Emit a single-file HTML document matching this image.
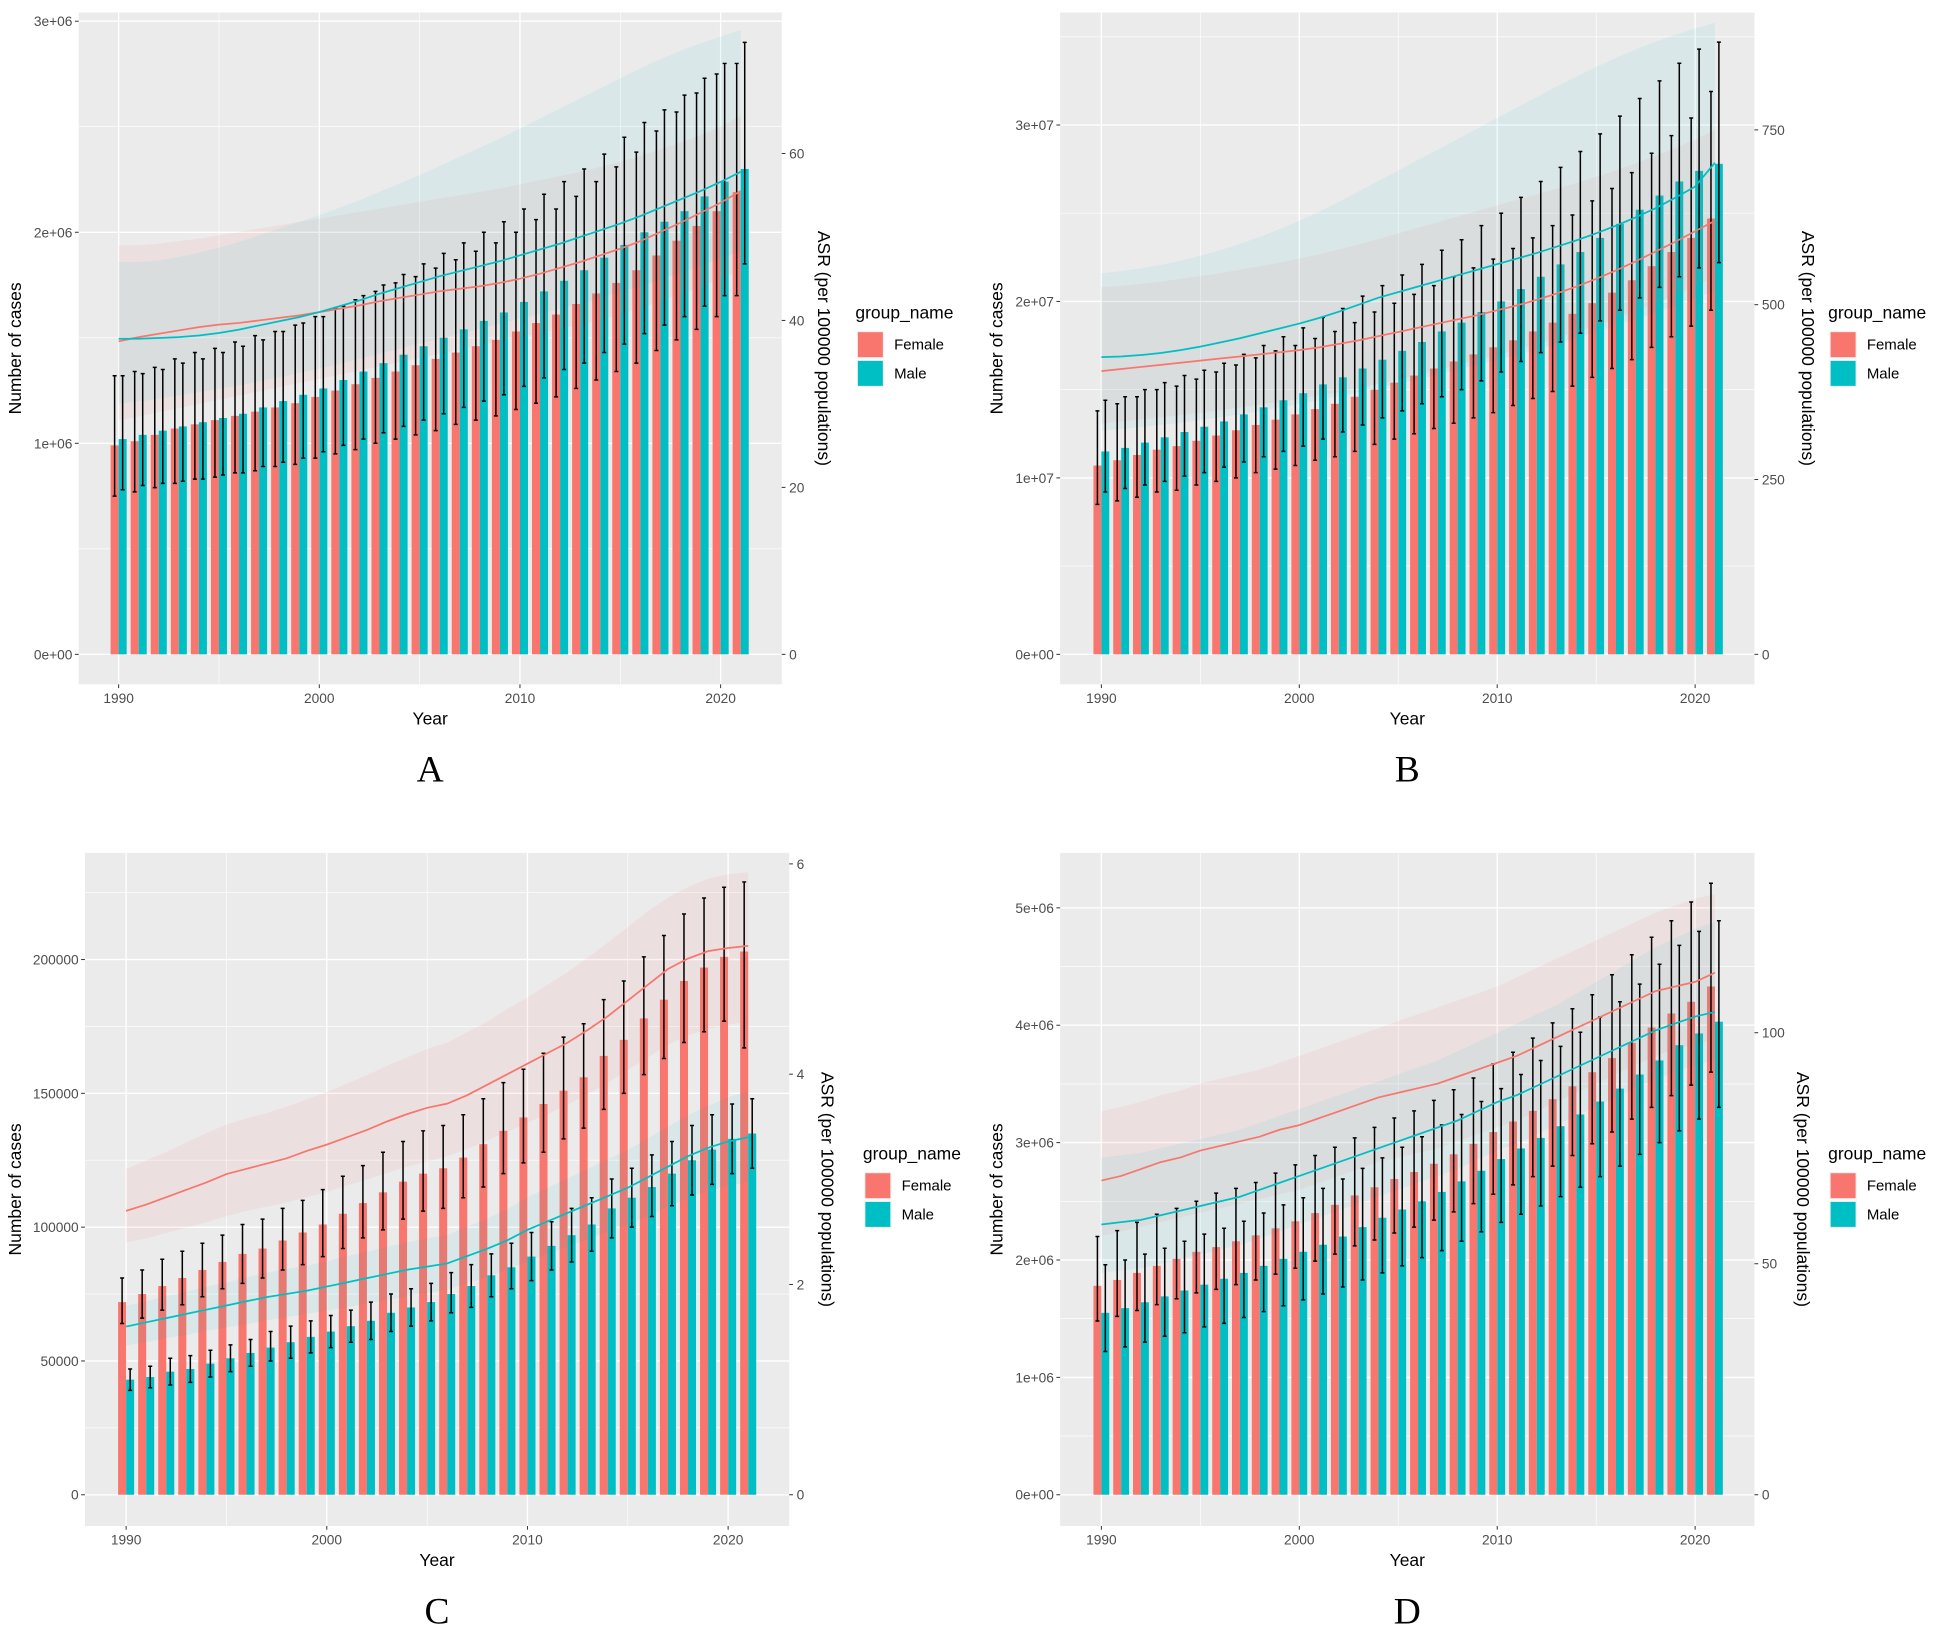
<!DOCTYPE html>
<html><head><meta charset="utf-8"><style>
html,body{margin:0;padding:0;background:#fff;}
svg{display:block;font-family:"Liberation Sans",Arial,sans-serif;}
</style></head><body>
<svg id="fig" width="1948" height="1630" viewBox="0 0 1560 1305.3" preserveAspectRatio="none" xmlns="http://www.w3.org/2000/svg"></svg>
<script>
const years=[];for(let y=1990;y<=2021;y++)years.push(y);
// Panel A
const aFemVal=[0.99,1.01,1.04,1.07,1.09,1.11,1.13,1.15,1.17,1.19,1.22,1.25,1.28,1.31,1.34,1.37,1.40,1.43,1.46,1.49,1.53,1.57,1.61,1.66,1.71,1.76,1.82,1.89,1.96,2.03,2.10,2.19];
const aFemLo=[0.75,0.77,0.79,0.81,0.83,0.84,0.86,0.87,0.89,0.90,0.93,0.95,0.97,1.00,1.02,1.04,1.06,1.09,1.11,1.13,1.16,1.19,1.22,1.26,1.30,1.34,1.38,1.44,1.49,1.54,1.60,1.70];
const aFemHi=[1.32,1.34,1.36,1.40,1.43,1.45,1.48,1.51,1.53,1.56,1.60,1.64,1.68,1.72,1.76,1.79,1.83,1.87,1.91,1.95,2.00,2.06,2.11,2.17,2.24,2.31,2.38,2.48,2.57,2.66,2.75,2.80];
const aMalVal=[1.02,1.04,1.06,1.08,1.10,1.12,1.14,1.17,1.20,1.23,1.26,1.30,1.34,1.38,1.42,1.46,1.50,1.54,1.58,1.62,1.67,1.72,1.77,1.82,1.88,1.94,2.00,2.05,2.10,2.17,2.24,2.30];
const aMalLo=[0.78,0.80,0.81,0.82,0.83,0.85,0.86,0.89,0.91,0.93,0.96,0.99,1.02,1.05,1.08,1.11,1.14,1.17,1.20,1.23,1.27,1.31,1.35,1.38,1.43,1.47,1.52,1.56,1.60,1.65,1.70,1.85];
const aMalHi=[1.32,1.33,1.35,1.38,1.40,1.43,1.46,1.49,1.53,1.57,1.60,1.65,1.70,1.75,1.80,1.85,1.90,1.95,2.00,2.05,2.11,2.18,2.24,2.30,2.37,2.45,2.52,2.58,2.65,2.73,2.80,2.90];
const aFemAsr=[37.5,38.0,38.4,38.8,39.2,39.5,39.7,40.0,40.3,40.6,41.0,41.4,41.8,42.3,42.7,43.1,43.5,43.8,44.1,44.5,45.0,45.6,46.3,47.0,47.8,48.6,49.5,50.6,51.7,52.9,54.1,55.5];
const aFemAsrLo=[28,28.5,29,29.5,30,30.5,31,31.5,32,32.5,33,33.5,34,34.5,35,35.5,36,36.5,37,37.5,38,38.5,39,39.5,40,40.8,41.5,42.3,43.2,44,45,46];
const aFemAsrHi=[49,49,49.2,49.5,49.8,50.2,50.6,51,51.4,51.8,52.2,52.6,53,53.4,53.8,54.2,54.6,55,55.4,55.8,56.3,56.8,57.3,57.8,58.4,59,59.7,60.5,61.3,62.2,63.2,64.5];
const aMalAsr=[37.8,37.8,37.9,38.0,38.2,38.5,38.9,39.4,39.9,40.4,41.0,41.7,42.4,43.2,43.9,44.6,45.3,45.9,46.5,47.1,47.8,48.5,49.2,50.0,50.8,51.6,52.5,53.5,54.5,55.5,56.6,57.8];
const aMalAsrLo=[30,30.3,30.6,31,31.4,31.8,32.2,32.7,33.2,33.7,34.2,34.8,35.4,36,36.6,37.2,37.8,38.4,39,39.6,40.2,40.8,41.4,42,42.7,43.4,44.1,44.9,45.7,46.5,47.4,48.3];
const aMalAsrHi=[47,47,47.2,47.6,48.1,48.7,49.4,50.2,51,51.8,52.6,53.5,54.4,55.4,56.4,57.4,58.5,59.6,60.7,61.8,63,64.2,65.4,66.6,67.8,69,70.2,71.3,72.3,73.2,74,74.8];
// Panel B
const bFemVal=[1.07,1.10,1.13,1.16,1.18,1.21,1.24,1.27,1.30,1.33,1.36,1.39,1.42,1.46,1.50,1.54,1.58,1.62,1.66,1.70,1.74,1.78,1.83,1.88,1.93,1.99,2.05,2.12,2.20,2.28,2.36,2.47];
const bFemLo=[0.85,0.87,0.89,0.92,0.93,0.96,0.98,1.00,1.03,1.05,1.07,1.10,1.12,1.15,1.19,1.22,1.25,1.28,1.31,1.34,1.37,1.41,1.45,1.49,1.52,1.57,1.62,1.67,1.74,1.80,1.86,1.95];
const bFemHi=[1.38,1.42,1.46,1.50,1.52,1.56,1.60,1.64,1.68,1.72,1.75,1.79,1.83,1.88,1.94,1.99,2.04,2.09,2.14,2.19,2.24,2.30,2.36,2.43,2.49,2.57,2.64,2.73,2.84,2.94,3.04,3.19];
const bMalVal=[1.15,1.17,1.20,1.23,1.26,1.29,1.32,1.36,1.40,1.44,1.48,1.53,1.57,1.62,1.67,1.72,1.77,1.83,1.88,1.94,2.00,2.07,2.14,2.21,2.28,2.36,2.44,2.52,2.60,2.68,2.74,2.78];
const bMalLo=[0.92,0.94,0.96,0.98,1.01,1.03,1.06,1.09,1.12,1.15,1.18,1.22,1.26,1.30,1.34,1.38,1.42,1.46,1.50,1.55,1.60,1.66,1.71,1.77,1.82,1.89,1.95,2.02,2.08,2.14,2.19,2.22];
const bMalHi=[1.44,1.46,1.50,1.54,1.58,1.61,1.65,1.70,1.75,1.80,1.85,1.91,1.96,2.03,2.09,2.15,2.21,2.29,2.35,2.43,2.50,2.59,2.68,2.76,2.85,2.95,3.05,3.15,3.25,3.35,3.43,3.47];
const bFemAsr=[405,408,411,414,417,420,423,426,429,432,435,439,444,449,455,461,467,473,479,485,492,499,507,516,526,537,549,562,576,590,605,620];
const bFemAsrLo=[330,333,336,339,342,345,349,353,357,361,365,370,375,381,387,393,400,407,414,421,428,436,444,452,461,470,480,491,502,514,527,540];
const bFemAsrHi=[525,527,530,533,537,541,545,550,555,560,566,572,579,586,594,602,610,618,626,634,642,650,658,666,674,683,692,702,713,724,736,750];
const bMalAsr=[425,426,428,431,435,440,446,452,459,466,473,481,490,500,510,518,526,534,542,550,558,566,574,583,592,602,613,625,638,653,669,703];
const bMalAsrLo=[320,322,325,328,331,335,339,343,348,353,358,363,369,375,381,387,393,400,407,414,421,428,436,444,452,461,470,479,489,499,509,520];
const bMalAsrHi=[545,548,552,557,563,570,578,587,597,608,620,633,647,662,677,692,707,722,737,752,767,782,797,812,826,840,853,865,876,886,895,903];
// Panel C
const cFemVal=[72,75,78,81,84,87,90,92,95,98,101,105,109,113,117,120,122,126,131,136,141,146,151,156,164,170,178,185,192,197,201,203];
const cFemLo=[64,66,69,71,74,77,79,81,84,86,89,92,96,99,103,106,107,111,115,120,124,128,133,137,144,150,157,163,169,173,177,167];
const cFemHi=[81,84,88,91,94,97,101,103,107,110,114,119,123,128,132,136,138,142,148,154,159,165,171,176,185,192,201,209,217,223,227,229];
const cMalVal=[43,44,46,47,49,51,53,55,57,59,61,63,65,68,70,72,75,78,82,85,89,93,97,101,107,111,115,120,125,129,133,135];
const cMalLo=[39,40,41,42,44,46,48,50,51,53,55,57,58,61,63,65,68,70,74,77,80,84,87,91,96,100,104,108,112,116,120,122];
const cMalHi=[47,48,51,52,54,56,58,61,63,65,67,69,72,75,77,79,83,86,90,94,98,102,107,111,118,122,127,132,138,142,146,148];
const cFemAsr=[2.70,2.76,2.83,2.90,2.97,3.05,3.10,3.15,3.20,3.27,3.33,3.40,3.47,3.55,3.62,3.68,3.72,3.80,3.90,4.00,4.10,4.20,4.30,4.42,4.55,4.70,4.85,5.00,5.10,5.17,5.20,5.22];
const cFemAsrLo=[2.40,2.44,2.49,2.54,2.59,2.65,2.70,2.74,2.78,2.83,2.88,2.94,3.00,3.06,3.12,3.17,3.22,3.29,3.37,3.45,3.54,3.62,3.71,3.81,3.92,4.04,4.16,4.28,4.37,4.43,4.47,4.50];
const cFemAsrHi=[3.10,3.18,3.26,3.35,3.44,3.52,3.58,3.63,3.69,3.76,3.83,3.91,3.99,4.08,4.16,4.24,4.30,4.40,4.50,4.62,4.73,4.85,4.97,5.11,5.25,5.40,5.55,5.68,5.78,5.86,5.90,5.92];
const cMalAsr=[1.60,1.64,1.68,1.72,1.76,1.80,1.84,1.88,1.91,1.94,1.98,2.02,2.06,2.10,2.14,2.17,2.20,2.27,2.34,2.42,2.52,2.60,2.68,2.76,2.84,2.92,3.02,3.12,3.22,3.30,3.36,3.40];
const cMalAsrLo=[1.42,1.45,1.49,1.52,1.56,1.59,1.62,1.66,1.69,1.72,1.75,1.78,1.82,1.85,1.89,1.92,1.95,2.01,2.07,2.14,2.22,2.29,2.36,2.43,2.50,2.57,2.65,2.74,2.82,2.89,2.94,2.97];
const cMalAsrHi=[1.80,1.84,1.89,1.93,1.98,2.02,2.07,2.11,2.15,2.18,2.22,2.27,2.31,2.36,2.40,2.44,2.47,2.55,2.63,2.72,2.83,2.92,3.01,3.10,3.19,3.28,3.39,3.50,3.61,3.70,3.78,3.84];
// Panel D
const dFemVal=[1.78,1.83,1.89,1.95,2.01,2.07,2.11,2.16,2.21,2.27,2.33,2.40,2.47,2.55,2.62,2.69,2.75,2.82,2.90,2.99,3.09,3.18,3.27,3.37,3.48,3.60,3.72,3.85,3.98,4.10,4.20,4.33];
const dFemLo=[1.48,1.52,1.57,1.62,1.67,1.72,1.75,1.79,1.83,1.88,1.93,1.99,2.05,2.12,2.17,2.23,2.28,2.34,2.41,2.48,2.56,2.64,2.71,2.80,2.89,2.99,3.09,3.20,3.30,3.40,3.49,3.60];
const dFemHi=[2.20,2.25,2.32,2.39,2.44,2.50,2.57,2.61,2.66,2.74,2.81,2.89,2.96,3.04,3.13,3.21,3.27,3.36,3.45,3.55,3.67,3.77,3.89,4.02,4.14,4.26,4.43,4.60,4.75,4.89,5.05,5.21];
const dMalVal=[1.55,1.59,1.64,1.69,1.74,1.79,1.84,1.89,1.95,2.01,2.07,2.13,2.20,2.28,2.36,2.43,2.50,2.58,2.67,2.76,2.86,2.95,3.04,3.14,3.24,3.35,3.46,3.58,3.70,3.83,3.93,4.03];
const dMalLo=[1.22,1.26,1.30,1.35,1.38,1.43,1.46,1.51,1.56,1.61,1.66,1.71,1.77,1.83,1.89,1.95,2.02,2.08,2.16,2.24,2.32,2.39,2.46,2.54,2.62,2.71,2.80,2.90,3.00,3.10,3.20,3.30];
const dMalHi=[1.96,2.00,2.05,2.10,2.16,2.22,2.27,2.33,2.40,2.47,2.53,2.61,2.69,2.78,2.87,2.96,3.05,3.15,3.24,3.35,3.46,3.58,3.70,3.82,3.94,4.07,4.20,4.35,4.52,4.68,4.80,4.89];
const dFemAsr=[68,69,70.5,72,73,74.5,75.5,76.5,77.5,79,80,81.5,83,84.5,86,87,88,89,90.5,92,93.5,95,97,99,101,103,105,107,109,110,111,113];
const dFemAsrLo=[56,57,58,59,60,61,62,63,64,65,66,67.5,69,70.5,72,73,74,75,76.5,78,79.5,81,83,85,87,89,91,93,95,96.5,97.5,98.5];
const dFemAsrHi=[83,84,85,86.5,87.5,89,90,91,92,93.5,95,96.5,98,99.5,101,102.5,104,105.5,107,108.5,110,112,114,116,118,120,122,124,126,127.5,129,130];
const dMalAsr=[58.5,59,59.5,60.5,61.5,62.5,63.5,64.5,66,67.5,69,70.5,72,73.5,75,76.5,78,79.5,81,83,85,86.5,88.5,90.5,92.5,94.5,96.5,98.5,100.5,102,103.5,104.5];
const dMalAsrLo=[48,48.5,49,50,51,52,53,54,55.5,57,58.5,60,61.5,63,64.5,66,67.5,69,70.5,72.5,74.5,76,78,80,82,84,86,88,90,91.5,93,94];
const dMalAsrHi=[73,73.5,74,75,76,77,78,79,80.5,82,83.5,85,86.5,88,89.5,91,92.5,94,96,98,100,102,104,106,108.5,111,113.5,116,118.5,120.5,122.5,124];
// tick labels
const aLeftTicks=["0e+00","1e+06","2e+06","3e+06"];const aRightTicks=[0,20,40,60];
const bLeftTicks=["0e+00","1e+07","2e+07","3e+07"];const bRightTicks=[0,250,500,750];
const cLeftTicks=["0","50000","100000","150000","200000"];const cRightTicks=[0,2,4,6];
const dLeftTicks=["0e+00","1e+06","2e+06","3e+06","4e+06","5e+06"];const dRightTicks=[0,50,100];
const xTicks=[1990,2000,2010,2020];

const NS="http://www.w3.org/2000/svg";
const svg=document.getElementById('fig');
function mk(tag,attrs,parent,txt){const e=document.createElementNS(NS,tag);for(const k in attrs)e.setAttribute(k,attrs[k]);if(txt!==undefined)e.textContent=txt;(parent||svg).appendChild(e);return e;}
const FEM="#F8766D",MAL="#00BFC4";

function panel(p){
  const g=mk('g',{});
  
  
  const {L,R,T,B}=p;
  const x=v=>p.x0+(v-1990)*p.xs;
  const yl=v=>p.y0-v*p.ly;
  const yr=v=>p.y0-v*p.ry;
  const bg=mk('rect',{x:L,y:T,width:R-L,height:B-T,fill:"#EBEBEB"},g);
  
  const lN=p.leftTicks.length;
  for(let i=0;i<lN;i++){
    const yy=yl(i*p.lStep);
    mk('line',{x1:L,x2:R,y1:yy,y2:yy,stroke:"#fff","stroke-width":1.1},g);
    const ym=yl((i+0.5)*p.lStep); if(ym>T) mk('line',{x1:L,x2:R,y1:ym,y2:ym,stroke:"#fff","stroke-width":0.5},g);
  }
  for(const t of xTicks){
    mk('line',{x1:x(t),x2:x(t),y1:T,y2:B,stroke:"#fff","stroke-width":1.1},g);
    mk('line',{x1:x(t+5),x2:x(t+5),y1:T,y2:B,stroke:"#fff","stroke-width":0.5},g);
  }
  const bw=0.4*p.xs;
  years.forEach((yr_,i)=>{
    const f=mk('rect',{x:x(yr_)-bw,y:yl(p.fv[i]),width:bw,height:p.y0-yl(p.fv[i]),fill:FEM},g);
    
    const m=mk('rect',{x:x(yr_),y:yl(p.mv[i]),width:bw,height:p.y0-yl(p.mv[i]),fill:MAL},g);
    
  });
  function ribbon(lo,hi,col,op,name){
    let d="M";years.forEach((yy,i)=>{d+=x(yy)+","+yr(hi[i])+" L";});
    for(let i=years.length-1;i>=0;i--){d+=x(years[i])+","+yr(lo[i])+(i?" L":" Z");}
    const e=mk('path',{d:d,fill:col,"fill-opacity":op},g);
    
  }
  ribbon(p.fal,p.fah,FEM,0.09,'ribbon-female');
  ribbon(p.mal,p.mah,MAL,0.07,'ribbon-male');
  const cap=0.1*p.xs;
  function err(cx,lo,hi,name){
    const e=mk('path',{d:`M${cx},${yl(lo)}V${yl(hi)}M${cx-cap},${yl(lo)}H${cx+cap}M${cx-cap},${yl(hi)}H${cx+cap}`,stroke:"#000","stroke-width":1.2,fill:"none"},g);
    
  }
  years.forEach((yy,i)=>{err(x(yy)-bw/2,p.fl[i],p.fh[i],'errorbar-female-'+yy);err(x(yy)+bw/2,p.ml[i],p.mh[i],'errorbar-male-'+yy);});
  function line(arr,col,name){
    const e=mk('polyline',{points:years.map((yy,i)=>x(yy)+","+yr(arr[i])).join(" "),fill:"none",stroke:col,"stroke-width":1.4},g);
    
  }
  line(p.fa,FEM,'asr-line-female');line(p.ma,MAL,'asr-line-male');
  p.leftTicks.forEach((lab,i)=>{const yy=yl(i*p.lStep);
    mk('line',{x1:L-3,x2:L,y1:yy,y2:yy,stroke:"#333","stroke-width":0.8},g);
    const t=mk('text',{x:L-5,y:yy+4,"text-anchor":"end","font-size":11,fill:"#4d4d4d"},g,lab);
    });
  p.rightTicks.forEach(v=>{const yy=yr(v);
    mk('line',{x1:R,x2:R+3,y1:yy,y2:yy,stroke:"#333","stroke-width":0.8},g);
    const t=mk('text',{x:R+6,y:yy+4,"font-size":11,fill:"#4d4d4d"},g,String(v));
    });
  xTicks.forEach(v=>{mk('line',{x1:x(v),x2:x(v),y1:B,y2:B+3,stroke:"#333","stroke-width":0.8},g);
    const t=mk('text',{x:x(v),y:B+15,"text-anchor":"middle","font-size":11,fill:"#4d4d4d"},g,String(v));
    });
  const cy=(T+B)/2;
  const xt=mk('text',{x:(L+R)/2,y:B+32,"text-anchor":"middle","font-size":14},g,"Year");
  
  const yt=mk('text',{x:0,y:0,"text-anchor":"middle","font-size":14,transform:`translate(${p.ytX},${cy}) rotate(-90)`},g,"Number of cases");
  
  const y2=mk('text',{x:0,y:0,"text-anchor":"middle","font-size":14,transform:`translate(${R+p.y2off},${cy}) rotate(90)`},g,"ASR (per 100000 populations)");
  
  const lg=mk('g',{},g);
  
  const lx=R+59, ly=cy-24;
  mk('text',{x:lx,y:ly,"font-size":14},lg,"group_name");
  mk('rect',{x:lx+1,y:ly+10,width:22,height:22,fill:"#F2F2F2"},lg);
  mk('rect',{x:lx+2,y:ly+11,width:20,height:20,fill:FEM},lg);
  mk('rect',{x:lx+1,y:ly+33,width:22,height:22,fill:"#F2F2F2"},lg);
  mk('rect',{x:lx+2,y:ly+34,width:20,height:20,fill:MAL},lg);
  mk('text',{x:lx+31,y:ly+25,"font-size":12},lg,"Female");
  mk('text',{x:lx+31,y:ly+48,"font-size":12},lg,"Male");
  const lt=mk('text',{x:(L+R)/2,y:B+78,"text-anchor":"middle","font-size":30,"font-family":"Liberation Serif, serif"},g,p.id);
  
}

panel({id:"A",L:63,R:626,T:10,B:548,x0:95,xs:16.07,y0:524,ly:169,lStep:1,ry:6.685,ytX:17,y2off:29,
  leftTicks:aLeftTicks,rightTicks:aRightTicks,fv:aFemVal,fl:aFemLo,fh:aFemHi,mv:aMalVal,ml:aMalLo,mh:aMalHi,
  fa:aFemAsr,fal:aFemAsrLo,fah:aFemAsrHi,ma:aMalAsr,mal:aMalAsrLo,mah:aMalAsrHi});
panel({id:"B",L:849,R:1405,T:10,B:548,x0:882,xs:15.85,y0:524,ly:141.3,lStep:1,ry:0.56,ytX:803,y2off:38,
  leftTicks:bLeftTicks,rightTicks:bRightTicks,fv:bFemVal,fl:bFemLo,fh:bFemHi,mv:bMalVal,ml:bMalLo,mh:bMalHi,
  fa:bFemAsr,fal:bFemAsrLo,fah:bFemAsrHi,ma:bMalAsr,mal:bMalAsrLo,mah:bMalAsrHi});
panel({id:"C",L:68,R:632,T:683,B:1222,x0:101,xs:16.07,y0:1197,ly:2.143,lStep:50,ry:84.2,ytX:17,y2off:26,
  leftTicks:cLeftTicks,rightTicks:cRightTicks,fv:cFemVal,fl:cFemLo,fh:cFemHi,mv:cMalVal,ml:cMalLo,mh:cMalHi,
  fa:cFemAsr,fal:cFemAsrLo,fah:cFemAsrHi,ma:cMalAsr,mal:cMalAsrLo,mah:cMalAsrHi});
panel({id:"D",L:849,R:1405,T:683,B:1222,x0:882,xs:15.85,y0:1197,ly:94,lStep:1,ry:3.7,ytX:803,y2off:34,
  leftTicks:dLeftTicks,rightTicks:dRightTicks,fv:dFemVal,fl:dFemLo,fh:dFemHi,mv:dMalVal,ml:dMalLo,mh:dMalHi,
  fa:dFemAsr,fal:dFemAsrLo,fah:dFemAsrHi,ma:dMalAsr,mal:dMalAsrLo,mah:dMalAsrHi});
</script>
</body></html>
